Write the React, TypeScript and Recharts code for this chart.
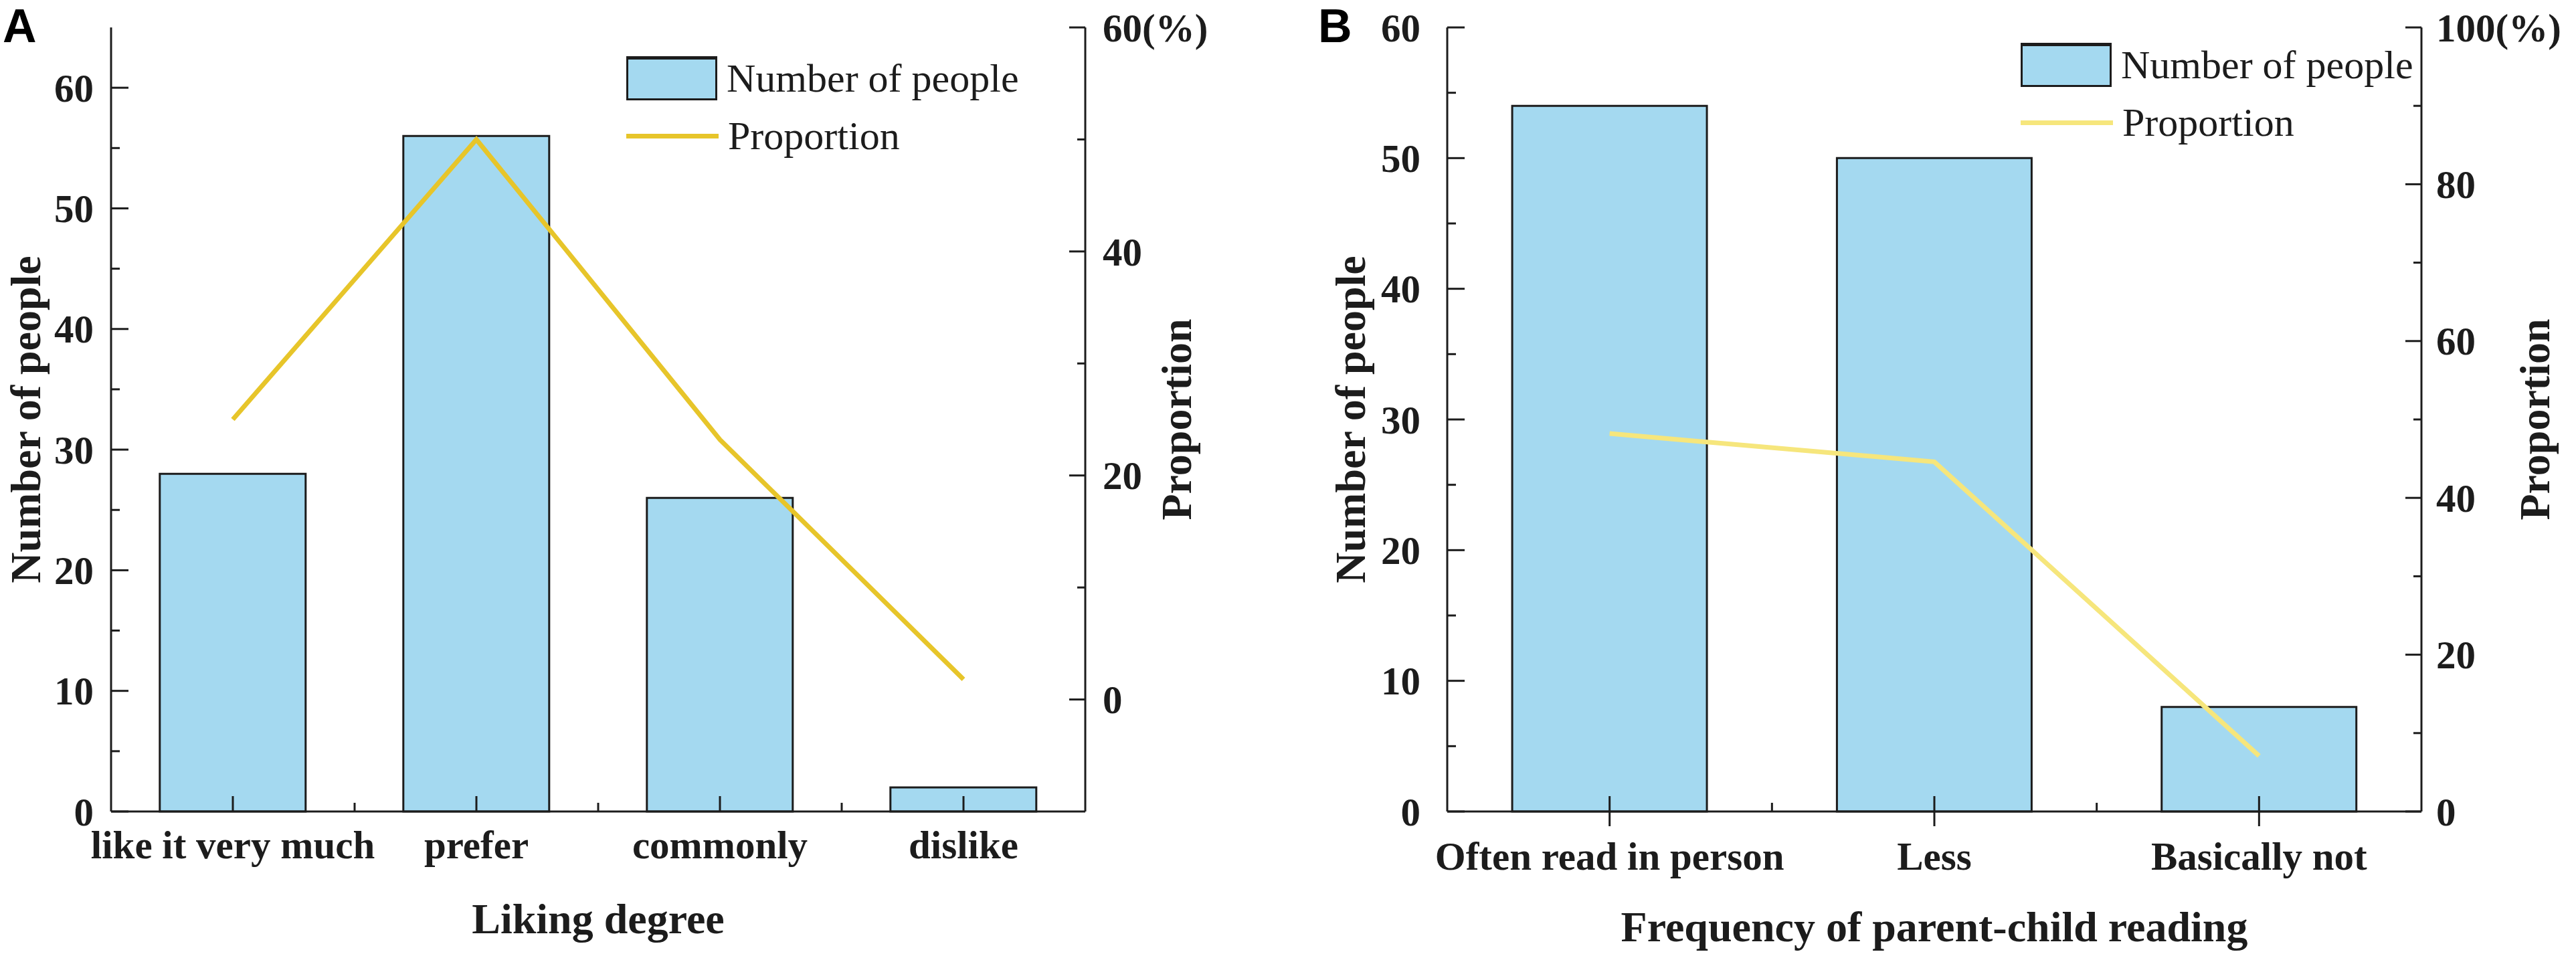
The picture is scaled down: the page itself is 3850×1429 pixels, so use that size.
import React from "react";
import { ComposedChart, Bar, Line, XAxis, YAxis, Legend } from "recharts";

// Panel A: liking degree
const likingCategories = ["like it very much", "prefer", "commonly", "dislike"];
const likingPeople = [28, 56, 26, 2];
const likingProportion = [25, 50, 23.2, 1.8];
const likingLeftTicks = [0, 5, 10, 15, 20, 25, 30, 35, 40, 45, 50, 55, 60];
const likingLeftLabels = [0, 10, 20, 30, 40, 50, 60];
const likingRightTicks = [0, 10, 20, 30, 40, 50, 60];
const likingRightLabels = [0, 20, 40, 60];

// Panel B: frequency of parent-child reading
const readingCategories = ["Often read in person", "Less", "Basically not"];
const readingPeople = [54, 50, 8];
const readingProportion = [48.2, 44.6, 7.1];
const readingLeftTicks = [0, 5, 10, 15, 20, 25, 30, 35, 40, 45, 50, 55, 60];
const readingLeftLabels = [0, 10, 20, 30, 40, 50, 60];
const readingRightTicks = [0, 10, 20, 30, 40, 50, 60, 70, 80, 90, 100];
const readingRightLabels = [0, 20, 40, 60, 80, 100];

const SERIF = "'Liberation Serif', 'Times New Roman', 'DejaVu Serif', serif";
const INK = "#1c1c1c";
const BAR_FILL = "#A4D9F0";

const likingData = likingCategories.map((name, i) => ({
  name,
  people: likingPeople[i],
  proportion: likingProportion[i],
}));

const readingData = readingCategories.map((name, i) => ({
  name,
  people: readingPeople[i],
  proportion: readingProportion[i],
}));

const LeftTick = (props: any) => {
  const { x, y, payload, labels, gap } = props;
  const major = labels.includes(payload.value);
  return (
    <g>
      <line x1={x} x2={x + (major ? 26 : 13)} y1={y} y2={y} stroke={INK} strokeWidth={3} />
      {major && (
        <text x={x - gap} y={y} dy="0.35em" textAnchor="end" fontFamily={SERIF} fontWeight="bold" fontSize={59} fill={INK}>
          {payload.value}
        </text>
      )}
    </g>
  );
};

const RightTick = (props: any) => {
  const { x, y, payload, labels, gap, top } = props;
  const major = labels.includes(payload.value);
  const text = payload.value === top ? `${payload.value}(%)` : `${payload.value}`;
  return (
    <g>
      <line x1={x} x2={x - (major ? 24 : 12)} y1={y} y2={y} stroke={INK} strokeWidth={3} />
      {major && (
        <text x={x + gap} y={y} dy="0.35em" textAnchor="start" fontFamily={SERIF} fontWeight="bold" fontSize={59} fill={INK}>
          {text}
        </text>
      )}
    </g>
  );
};

const CategoryTick = (props: any) => {
  const { x, y, payload, index, bandWidth, count, offsetY, cross } = props;
  return (
    <g>
      <line x1={x} x2={x} y1={y - 23} y2={cross ? y + 22 : y} stroke={INK} strokeWidth={3} />
      {index < count - 1 && (
        <line x1={x + bandWidth / 2} x2={x + bandWidth / 2} y1={y - 13} y2={y} stroke={INK} strokeWidth={3} />
      )}
      <text x={x} y={y + offsetY} textAnchor="middle" fontFamily={SERIF} fontWeight="bold" fontSize={59} fill={INK}>
        {payload.value}
      </text>
    </g>
  );
};

const AxisTitle = (props: any) => {
  const { cx, cy, rot, text } = props;
  return (
    <text
      x={cx}
      y={cy}
      transform={rot ? `rotate(${rot} ${cx} ${cy})` : undefined}
      textAnchor="middle"
      fontFamily={SERIF}
      fontWeight="bold"
      fontSize={64}
      fill={INK}
    >
      {text}
    </text>
  );
};

const LegendBox = (props: any) => {
  const { payload = [], lineColor } = props;
  const items = [...payload].sort((a: any, b: any) => (a.type === "rect" ? -1 : 1) - (b.type === "rect" ? -1 : 1));
  return (
    <div style={{ fontFamily: SERIF, fontSize: 60, color: INK }}>
      {items.map((entry: any, i: number) => (
        <div key={entry.value} style={{ display: "flex", alignItems: "center", height: 66, marginTop: i ? 20 : 0 }}>
          {entry.type === "rect" ? (
            <div style={{ width: 136, height: 66, boxSizing: "border-box", background: BAR_FILL, border: `3px solid ${INK}`, borderTopWidth: 5 }} />
          ) : (
            <div style={{ width: 138, height: 7, background: lineColor }} />
          )}
          <span style={{ marginLeft: 14, lineHeight: 1, whiteSpace: "nowrap" }}>{entry.value}</span>
        </div>
      ))}
    </div>
  );
};

type PanelProps = {
  data: any[];
  width: number;
  plotLeft: number;
  plotRight: number;
  leftDomain: number[];
  leftTicks: number[];
  leftLabels: number[];
  leftGap: number;
  rightDomain: number[];
  rightTicks: number[];
  rightLabels: number[];
  rightGap: number;
  rightTop: number;
  lineColor: string;
  labelOffset: number;
  crossTicks: boolean;
  legendPos: { left: number; top: number };
  xTitle: string;
  xTitleY: number;
  leftTitleX: number;
  rightTitleX: number;
};

const HEIGHT = 1429;
const PLOT_TOP = 41;
const PLOT_BOTTOM = 1213;

const Panel = (p: PanelProps) => {
  const plotWidth = p.plotRight - p.plotLeft;
  const bandWidth = plotWidth / p.data.length;
  const midY = (PLOT_TOP + PLOT_BOTTOM) / 2;
  return (
    <ComposedChart
      width={p.width}
      height={HEIGHT}
      data={p.data}
      margin={{ top: PLOT_TOP, right: 0, bottom: 0, left: 0 }}
      barCategoryGap="20%"
    >
      <Bar
        yAxisId="left"
        dataKey="people"
        name="Number of people"
        fill={BAR_FILL}
        stroke={INK}
        strokeWidth={3}
        isAnimationActive={false}
      />
      <Line
        yAxisId="right"
        type="linear"
        dataKey="proportion"
        name="Proportion"
        stroke={p.lineColor}
        strokeWidth={7}
        dot={false}
        legendType="line"
        isAnimationActive={false}
      />
      <XAxis
        dataKey="name"
        height={HEIGHT - PLOT_BOTTOM}
        interval={0}
        tickSize={0}
        tickMargin={0}
        tickLine={false}
        axisLine={{ stroke: INK, strokeWidth: 3 }}
        tick={<CategoryTick bandWidth={bandWidth} count={p.data.length} offsetY={p.labelOffset} cross={p.crossTicks} />}
        label={<AxisTitle cx={(p.plotLeft + p.plotRight) / 2} cy={p.xTitleY} text={p.xTitle} />}
      />
      <XAxis
        xAxisId="top"
        orientation="top"
        dataKey="name"
        height={0}
        tick={false}
        tickLine={false}
        axisLine={{ stroke: "#6f6f6f", strokeWidth: 4 }}
      />
      <YAxis
        yAxisId="left"
        width={p.plotLeft}
        domain={p.leftDomain}
        ticks={p.leftTicks}
        interval={0}
        tickSize={0}
        tickMargin={0}
        tickLine={false}
        axisLine={{ stroke: INK, strokeWidth: 3 }}
        tick={<LeftTick labels={p.leftLabels} gap={p.leftGap} />}
        label={<AxisTitle cx={p.leftTitleX} cy={midY} rot={-90} text="Number of people" />}
      />
      <YAxis
        yAxisId="right"
        orientation="right"
        width={p.width - p.plotRight}
        domain={p.rightDomain}
        ticks={p.rightTicks}
        interval={0}
        tickSize={0}
        tickMargin={0}
        tickLine={false}
        axisLine={{ stroke: INK, strokeWidth: 3 }}
        tick={<RightTick labels={p.rightLabels} gap={p.rightGap} top={p.rightTop} />}
        label={<AxisTitle cx={p.rightTitleX} cy={midY} rot={-90} text="Proportion" />}
      />
      <Legend
        layout="horizontal"
        verticalAlign="middle"
        align="center"
        content={<LegendBox lineColor={p.lineColor} />}
        wrapperStyle={{ left: p.legendPos.left, top: p.legendPos.top, width: 700, height: "auto" }}
      />
    </ComposedChart>
  );
};

const panelLetter: React.CSSProperties = {
  position: "absolute",
  top: 4,
  fontFamily: "'Liberation Sans', Arial, sans-serif",
  fontWeight: "bold",
  fontSize: 70,
  lineHeight: 1,
  color: "#000",
};

export default function App() {
  return (
    <div style={{ position: "absolute", left: 0, top: 0, width: 3850, height: HEIGHT, background: "#fff", overflow: "hidden" }}>
      <div style={{ position: "absolute", left: 0, top: 0 }}>
        <Panel
          data={likingData}
          width={1930}
          plotLeft={166}
          plotRight={1622}
          leftDomain={[0, 65]}
          leftTicks={likingLeftTicks}
          leftLabels={likingLeftLabels}
          leftGap={26}
          rightDomain={[-10, 60]}
          rightTicks={likingRightTicks}
          rightLabels={likingRightLabels}
          rightGap={26}
          rightTop={60}
          lineColor="#E7C52A"
          labelOffset={70}
          crossTicks={false}
          legendPos={{ left: 936, top: 84 }}
          xTitle="Liking degree"
          xTitleY={1395}
          leftTitleX={60}
          rightTitleX={1780}
        />
      </div>
      <div style={{ position: "absolute", left: 1930, top: 0 }}>
        <Panel
          data={readingData}
          width={1920}
          plotLeft={233}
          plotRight={1689}
          leftDomain={[0, 60]}
          leftTicks={readingLeftTicks}
          leftLabels={readingLeftLabels}
          leftGap={40}
          rightDomain={[0, 100]}
          rightTicks={readingRightTicks}
          rightLabels={readingRightLabels}
          rightGap={22}
          rightTop={100}
          lineColor="#F6E67C"
          labelOffset={87}
          crossTicks={true}
          legendPos={{ left: 1090, top: 64 }}
          xTitle="Frequency of parent-child reading"
          xTitleY={1407}
          leftTitleX={110}
          rightTitleX={1880}
        />
      </div>
      <div style={{ ...panelLetter, left: 4 }}>A</div>
      <div style={{ ...panelLetter, left: 1970 }}>B</div>
    </div>
  );
}
